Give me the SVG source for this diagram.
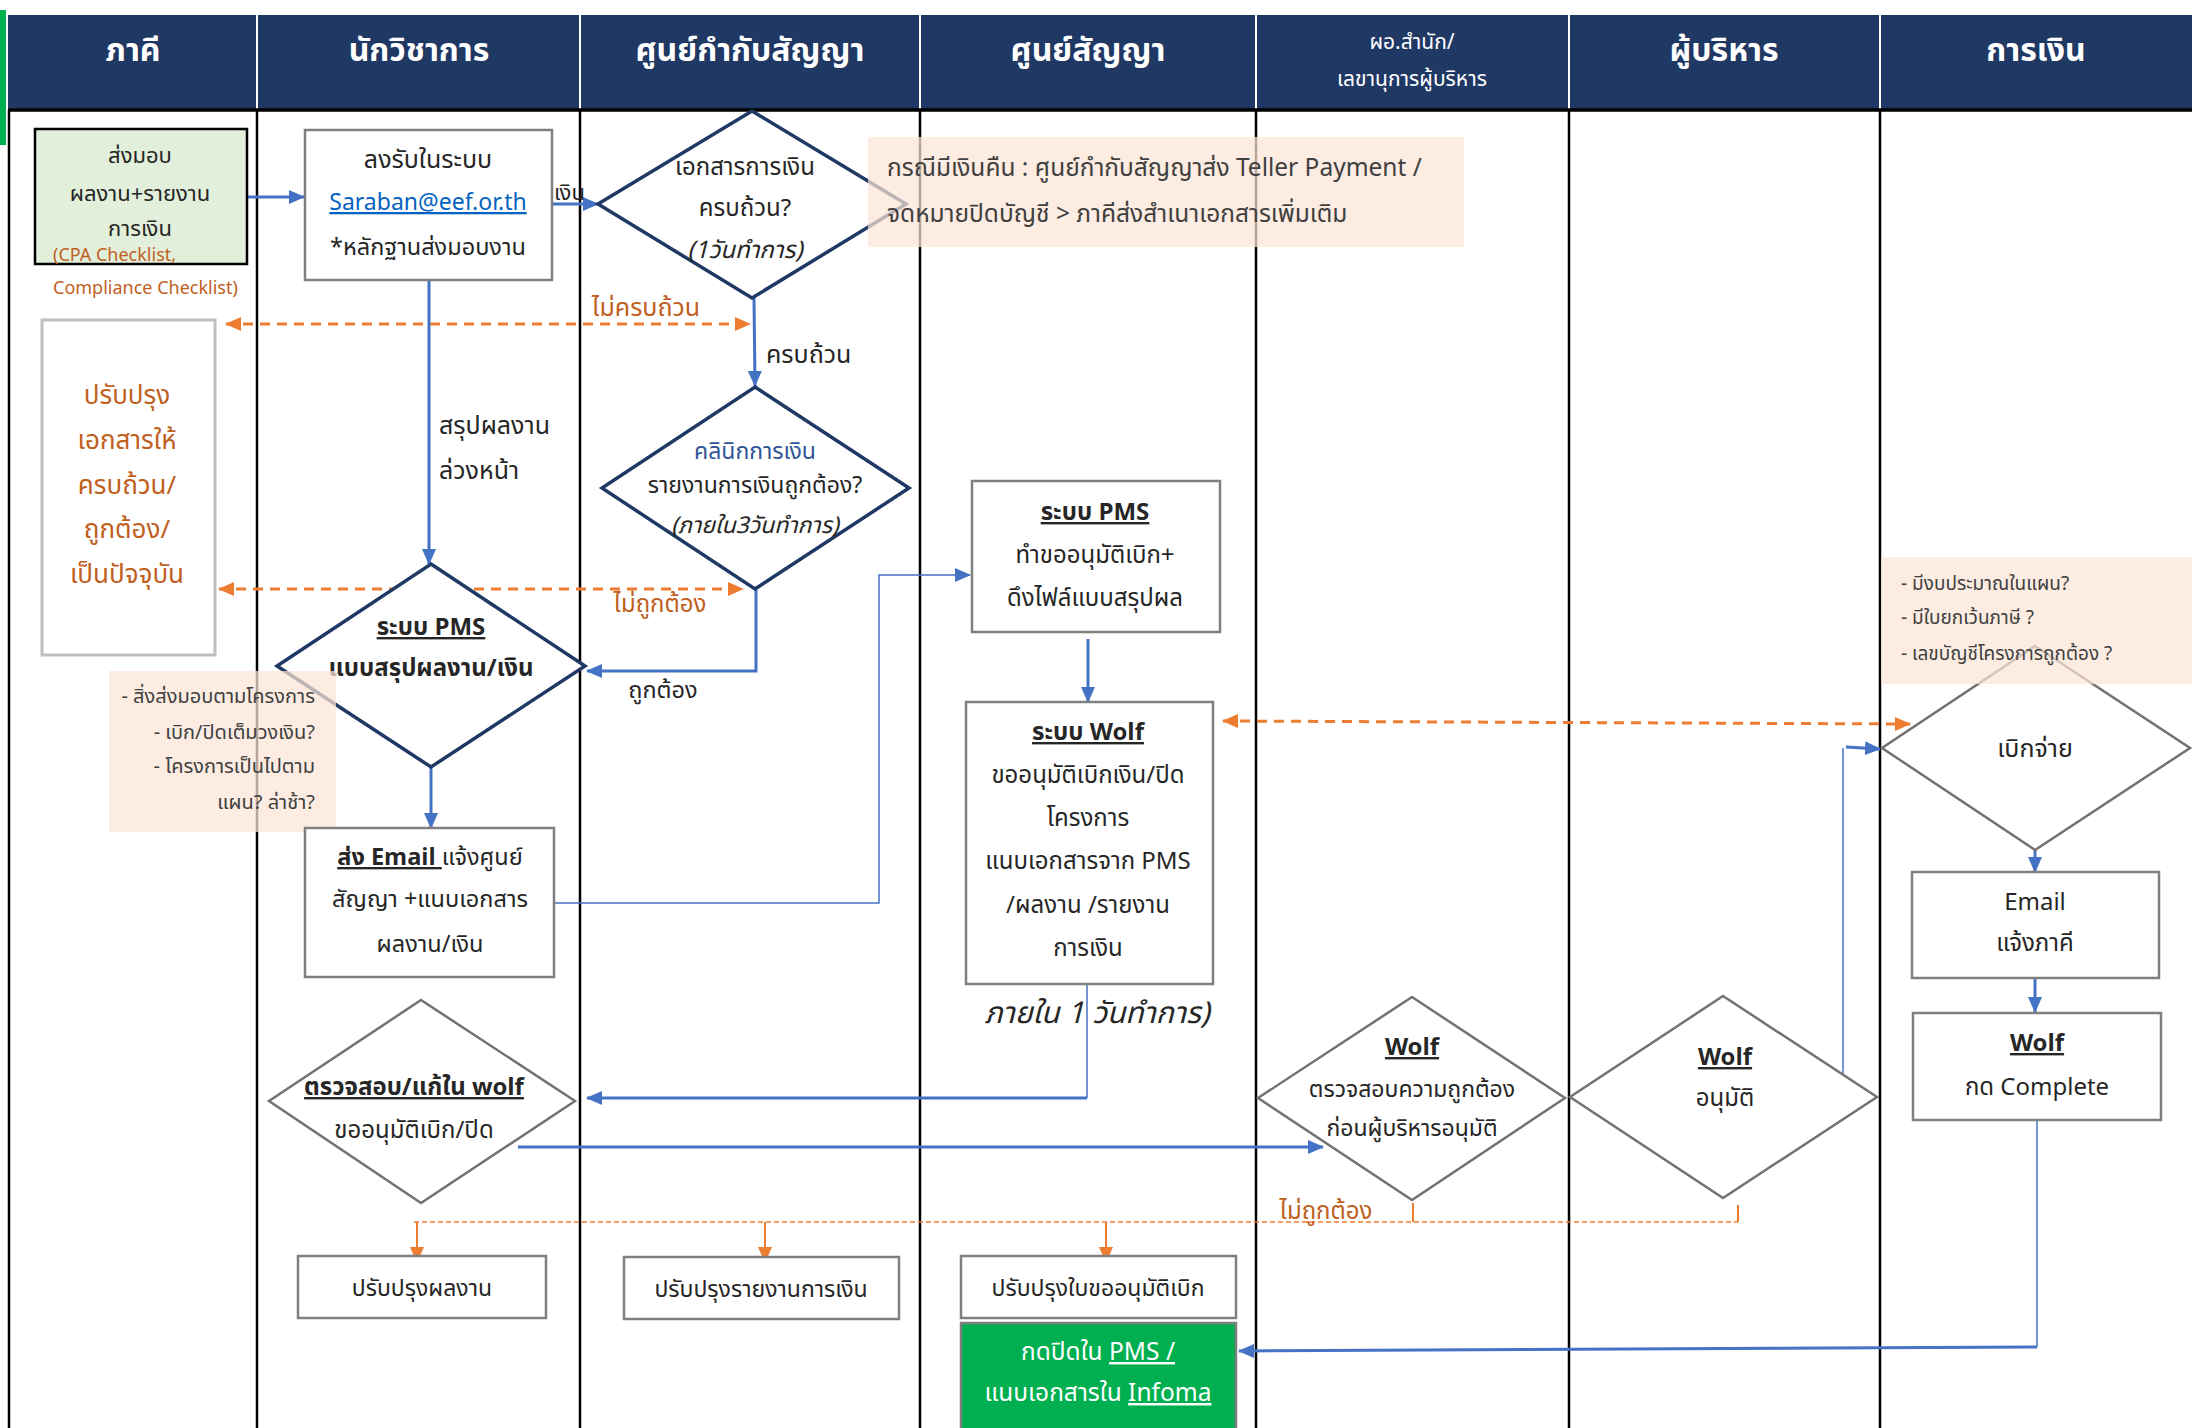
<svg xmlns="http://www.w3.org/2000/svg" width="2192" height="1428" viewBox="0 0 2192 1428">
<defs>
<style>
.t{font-family:Tahoma,"Leelawadee UI","Noto Sans Thai","Noto Sans",sans-serif;font-size:24px;fill:#262626;text-anchor:middle}
.h{font-family:Tahoma,"Leelawadee UI","Noto Sans Thai","Noto Sans",sans-serif;font-size:32px;font-weight:bold;fill:#fff;text-anchor:middle}
.hs{font-size:21px;font-weight:normal}
.b{font-weight:bold}
.u{text-decoration:underline}
.i{font-style:italic}
.br{fill:#C0601E}
.st{text-anchor:start}
.en{text-anchor:end}
.lane{stroke:#000;stroke-width:2.5}
.hsep{stroke:#fff;stroke-width:2}
.box{fill:#fff;stroke:#7F7F7F;stroke-width:2.5}
.dn{fill:#fff;stroke:#1F3864;stroke-width:3.5}
.dg{fill:#fff;stroke:#767171;stroke-width:2.5}
.note{fill:#FBE5D6;fill-opacity:0.72}
.nt{fill:#404040}
.c{fill:none;stroke:#4472C4;stroke-width:3}
.cth{fill:none;stroke:#4472C4;stroke-width:1.5}
.od{fill:none;stroke:#ED7D31;stroke-width:3;stroke-dasharray:10 7}
.odt{fill:none;stroke:#ED7D31;stroke-width:1.5;stroke-dasharray:5 3}
.os{fill:none;stroke:#ED7D31;stroke-width:2}
</style>
<marker id="ab" markerUnits="userSpaceOnUse" markerWidth="16" markerHeight="16" viewBox="0 0 16 16" refX="15" refY="8" orient="auto"><path d="M0,1 L16,8 L0,15 Z" fill="#4472C4"/></marker>
<marker id="ao" markerUnits="userSpaceOnUse" markerWidth="16" markerHeight="16" viewBox="0 0 16 16" refX="15" refY="8" orient="auto-start-reverse"><path d="M0,1 L16,8 L0,15 Z" fill="#ED7D31"/></marker>
</defs>
<rect x="0" y="0" width="2192" height="1428" fill="#fff"/>
<rect x="0" y="10" width="6" height="135" fill="#00B050"/>

<g id="lanes">
<rect x="8" y="15" width="2184" height="95" fill="#203864"/>
<g class="hsep">
<line x1="257" y1="15" x2="257" y2="109"/><line x1="580" y1="15" x2="580" y2="109"/><line x1="920" y1="15" x2="920" y2="109"/><line x1="1256" y1="15" x2="1256" y2="109"/><line x1="1569" y1="15" x2="1569" y2="109"/><line x1="1880" y1="15" x2="1880" y2="109"/>
</g>
<line x1="8" y1="110" x2="2192" y2="110" stroke="#000" stroke-width="3.5"/>
<g class="lane">
<line x1="9" y1="110" x2="9" y2="1428"/><line x1="257" y1="110" x2="257" y2="1428"/><line x1="580" y1="110" x2="580" y2="1428"/><line x1="920" y1="110" x2="920" y2="1428"/><line x1="1256" y1="110" x2="1256" y2="1428"/><line x1="1569" y1="110" x2="1569" y2="1428"/><line x1="1880" y1="110" x2="1880" y2="1428"/>
</g>
<text class="h" x="133" y="61">ภาคี</text>
<text class="h" x="419" y="61">นักวิชาการ</text>
<text class="h" x="750" y="61">ศูนย์กำกับสัญญา</text>
<text class="h" x="1088" y="61">ศูนย์สัญญา</text>
<text class="h hs" x="1412" y="49">ผอ.สำนัก/</text>
<text class="h hs" x="1412" y="86">เลขานุการผู้บริหาร</text>
<text class="h" x="1724" y="61">ผู้บริหาร</text>
<text class="h" x="2036" y="61">การเงิน</text>
</g>

<g id="connectors">
<line class="c" x1="247" y1="197" x2="304" y2="197" marker-end="url(#ab)"/>
<line class="c" x1="553" y1="204" x2="598" y2="204" marker-end="url(#ab)"/>
<line class="od" x1="226" y1="324" x2="750" y2="324" marker-start="url(#ao)" marker-end="url(#ao)"/>
<line class="c" x1="754" y1="298" x2="755" y2="386" stroke-width="2" marker-end="url(#ab)"/>
<line class="c" x1="429" y1="281" x2="429" y2="564" stroke-width="2" marker-end="url(#ab)"/>
<line class="od" x1="219" y1="589" x2="743" y2="589" marker-start="url(#ao)" marker-end="url(#ao)"/>
<path class="c" d="M756,589 V671 H587" stroke-width="2.5" marker-end="url(#ab)"/>
<line class="c" x1="431" y1="767" x2="431" y2="828" stroke-width="2" marker-end="url(#ab)"/>
<path class="cth" d="M554,903 H879 V575 H970" marker-end="url(#ab)"/>
<line class="c" x1="1088" y1="639" x2="1088" y2="702" stroke-width="2" marker-end="url(#ab)"/>
<line class="cth" x1="1087" y1="984" x2="1087" y2="1098"/>
<line class="c" x1="1087" y1="1098" x2="587" y2="1098" marker-end="url(#ab)"/>
<line class="od" x1="1223" y1="721" x2="1910" y2="724" marker-start="url(#ao)" marker-end="url(#ao)"/>
<line class="c" x1="518" y1="1147" x2="1323" y2="1147" marker-end="url(#ab)"/>
<path class="cth" d="M1843,1075 V748"/>
<line class="c" x1="1846" y1="747" x2="1880" y2="749" marker-end="url(#ab)"/>
<line class="c" x1="2035" y1="850" x2="2035" y2="872" stroke-width="2" marker-end="url(#ab)"/>
<line class="c" x1="2035" y1="979" x2="2035" y2="1012" stroke-width="2" marker-end="url(#ab)"/>
<line class="cth" x1="2037" y1="1120" x2="2037" y2="1347"/>
<line class="c" x1="2037" y1="1347" x2="1239" y2="1351" marker-end="url(#ab)"/>
<path class="odt" d="M414,1222 H1738"/>
<path class="os" d="M1413,1203 V1222 M1738,1205 V1222" stroke-width="1.5"/>
<line class="os" x1="417" y1="1222" x2="417" y2="1262" marker-end="url(#ao)"/>
<line class="os" x1="765" y1="1222" x2="765" y2="1262" marker-end="url(#ao)"/>
<line class="os" x1="1106" y1="1222" x2="1106" y2="1262" marker-end="url(#ao)"/>
<text class="t st" x="554" y="200" style="font-size:22px">เงิน</text>
<text class="t br" x="646" y="316" style="font-size:25px">ไม่ครบถ้วน</text>
<text class="t st" x="766" y="363" style="font-size:25px">ครบถ้วน</text>
<text class="t st" x="439" y="434" style="font-size:25px">สรุปผลงาน</text>
<text class="t st" x="439" y="479" style="font-size:25px">ล่วงหน้า</text>
<text class="t br" x="660" y="612" style="font-size:24px">ไม่ถูกต้อง</text>
<text class="t" x="663" y="698" style="font-size:23.5px">ถูกต้อง</text>
<text class="t i" x="1097" y="1023" style="font-size:30px">ภายใน 1 วันทำการ)</text>
<text class="t br" x="1326" y="1219" style="font-size:24px">ไม่ถูกต้อง</text>
</g>

<g id="n-deliver">
<rect x="35" y="129" width="212" height="135" fill="#E2EFDA" stroke="#000" stroke-width="2.5"/>
<text class="t" x="140" y="163" style="font-size:22px">ส่งมอบ</text>
<text class="t" x="140" y="201" style="font-size:22px">ผลงาน+รายงาน</text>
<text class="t" x="140" y="236" style="font-size:22px">การเงิน</text>
<text class="t br st" x="53" y="261" style="font-size:18px">(CPA Checklist,</text>
<text class="t br st" x="53" y="294" style="font-size:18px">Compliance Checklist)</text>
</g>

<g id="n-receive">
<rect class="box" x="305" y="130" width="247" height="150"/>
<text class="t" x="428" y="168" style="font-size:25px">ลงรับในระบบ</text>
<text class="t u" x="428" y="210" style="font-size:23px;fill:#0563C1">Saraban@eef.or.th</text>
<text class="t" x="428" y="255" style="font-size:23.5px">*หลักฐานส่งมอบงาน</text>
</g>

<g id="n-doc-check">
<polygon class="dn" points="752,111 906,204 752,298 598,204"/>
<text class="t" x="745" y="175">เอกสารการเงิน</text>
<text class="t" x="745" y="216">ครบถ้วน?</text>
<text class="t i" x="745" y="258">(1วันทำการ)</text>
</g>

<g id="n-refund-note">
<rect class="note" x="868" y="137" width="596" height="110"/>
<text class="t st nt" x="887" y="176" style="font-size:24.5px">กรณีมีเงินคืน : ศูนย์กำกับสัญญาส่ง Teller Payment /</text>
<text class="t st nt" x="887" y="222" style="font-size:24.5px">จดหมายปิดบัญชี &gt; ภาคีส่งสำเนาเอกสารเพิ่มเติม</text>
</g>

<g id="n-fix-docs">
<rect x="42" y="320" width="173" height="335" fill="#fff" stroke="#BFBFBF" stroke-width="3"/>
<text class="t br" x="127" y="404" style="font-size:26px">ปรับปรุง</text>
<text class="t br" x="127" y="449" style="font-size:26px">เอกสารให้</text>
<text class="t br" x="127" y="494" style="font-size:26px">ครบถ้วน/</text>
<text class="t br" x="127" y="538" style="font-size:26px">ถูกต้อง/</text>
<text class="t br" x="127" y="583" style="font-size:26px">เป็นปัจจุบัน</text>
</g>

<g id="n-clinic">
<polygon class="dn" points="755,387 909,488 755,589 602,488"/>
<text class="t" x="755" y="459" style="font-size:23px;fill:#2F5597">คลินิกการเงิน</text>
<text class="t" x="755" y="493" style="font-size:23px">รายงานการเงินถูกต้อง?</text>
<text class="t i" x="755" y="533" style="font-size:23px">(ภายใน3วันทำการ)</text>
</g>

<g id="n-pms-form">
<polygon class="dn" points="431,564 585,666 431,767 277,666"/>
<text class="t b u" x="431" y="635">ระบบ PMS</text>
<text class="t b" x="431" y="676">แบบสรุปผลงาน/เงิน</text>
</g>

<g id="n-check-note">
<rect class="note" x="109" y="671" width="227" height="161"/>
<text class="t en nt" x="315" y="703" style="font-size:20px">- สิ่งส่งมอบตามโครงการ</text>
<text class="t en nt" x="315" y="739" style="font-size:20px">- เบิก/ปิดเต็มวงเงิน?</text>
<text class="t en nt" x="315" y="773" style="font-size:20px">- โครงการเป็นไปตาม</text>
<text class="t en nt" x="315" y="809" style="font-size:20px">แผน? ล่าช้า?</text>
</g>

<g id="n-email-send">
<rect class="box" x="305" y="828" width="249" height="149"/>
<text class="t" x="430" y="865" style="font-size:23.5px"><tspan class="b u">ส่ง Email </tspan>แจ้งศูนย์</text>
<text class="t" x="430" y="907" style="font-size:23.5px">สัญญา +แนบเอกสาร</text>
<text class="t" x="430" y="952" style="font-size:23.5px">ผลงาน/เงิน</text>
</g>

<g id="n-pms-request">
<rect class="box" x="972" y="481" width="248" height="151"/>
<text class="t b u" x="1095" y="520">ระบบ PMS</text>
<text class="t" x="1095" y="563">ทำขออนุมัติเบิก+</text>
<text class="t" x="1095" y="606">ดึงไฟล์แบบสรุปผล</text>
</g>

<g id="n-wolf-request">
<rect class="box" x="966" y="702" width="247" height="282"/>
<text class="t b u" x="1088" y="740">ระบบ Wolf</text>
<text class="t" x="1088" y="783">ขออนุมัติเบิกเงิน/ปิด</text>
<text class="t" x="1088" y="826">โครงการ</text>
<text class="t" x="1088" y="869">แนบเอกสารจาก PMS</text>
<text class="t" x="1088" y="913">/ผลงาน /รายงาน</text>
<text class="t" x="1088" y="956">การเงิน</text>
</g>

<g id="n-wolf-fix">
<polygon class="dg" points="421,1000 575,1101 421,1203 269,1101"/>
<text class="t b u" x="414" y="1095">ตรวจสอบ/แก้ใน wolf</text>
<text class="t" x="414" y="1138">ขออนุมัติเบิก/ปิด</text>
</g>

<g id="n-wolf-verify">
<polygon class="dg" points="1412,997 1565,1098 1412,1200 1258,1098"/>
<text class="t b u" x="1412" y="1055">Wolf</text>
<text class="t" x="1412" y="1097" style="font-size:23px">ตรวจสอบความถูกต้อง</text>
<text class="t" x="1412" y="1136" style="font-size:23px">ก่อนผู้บริหารอนุมัติ</text>
</g>

<g id="n-wolf-approve">
<polygon class="dg" points="1723,996 1877,1097 1723,1198 1570,1097"/>
<text class="t b u" x="1725" y="1065">Wolf</text>
<text class="t" x="1725" y="1106">อนุมัติ</text>
</g>

<g id="n-pay">
<polygon class="dg" points="2035,646 2190,748 2035,850 1882,748"/>
<text class="t" x="2035" y="757" style="font-size:25px">เบิกจ่าย</text>
</g>

<g id="n-pay-note">
<rect class="note" x="1881" y="557" width="311" height="127"/>
<text class="t st nt" x="1901" y="590" style="font-size:19px">- มีงบประมาณในแผน?</text>
<text class="t st nt" x="1901" y="624" style="font-size:19px">- มีใบยกเว้นภาษี ?</text>
<text class="t st nt" x="1901" y="660" style="font-size:19px">- เลขบัญชีโครงการถูกต้อง ?</text>
</g>

<g id="n-email-notify">
<rect class="box" x="1912" y="872" width="247" height="106"/>
<text class="t" x="2035" y="910">Email</text>
<text class="t" x="2035" y="951">แจ้งภาคี</text>
</g>

<g id="n-wolf-complete">
<rect class="box" x="1913" y="1013" width="248" height="107"/>
<text class="t b u" x="2037" y="1051">Wolf</text>
<text class="t" x="2037" y="1095">กด Complete</text>
</g>

<g id="n-fix-work">
<rect class="box" x="298" y="1256" width="248" height="62"/>
<text class="t" x="422" y="1296" style="font-size:23px">ปรับปรุงผลงาน</text>
</g>
<g id="n-fix-report">
<rect class="box" x="624" y="1257" width="275" height="62"/>
<text class="t" x="761" y="1297" style="font-size:23px">ปรับปรุงรายงานการเงิน</text>
</g>
<g id="n-fix-request">
<rect class="box" x="961" y="1256" width="275" height="62"/>
<text class="t" x="1098" y="1296" style="font-size:23px">ปรับปรุงใบขออนุมัติเบิก</text>
</g>
<g id="n-close">
<rect x="961" y="1323" width="275" height="112" fill="#00B050" stroke="#7F7F7F" stroke-width="2.5"/>
<text class="t" x="1098" y="1360" style="font-size:24.5px;fill:#fff">กดปิดใน <tspan class="u">PMS /</tspan></text>
<text class="t" x="1098" y="1401" style="font-size:24.5px;fill:#fff">แนบเอกสารใน <tspan class="u">Infoma</tspan></text>
</g>
</svg>
